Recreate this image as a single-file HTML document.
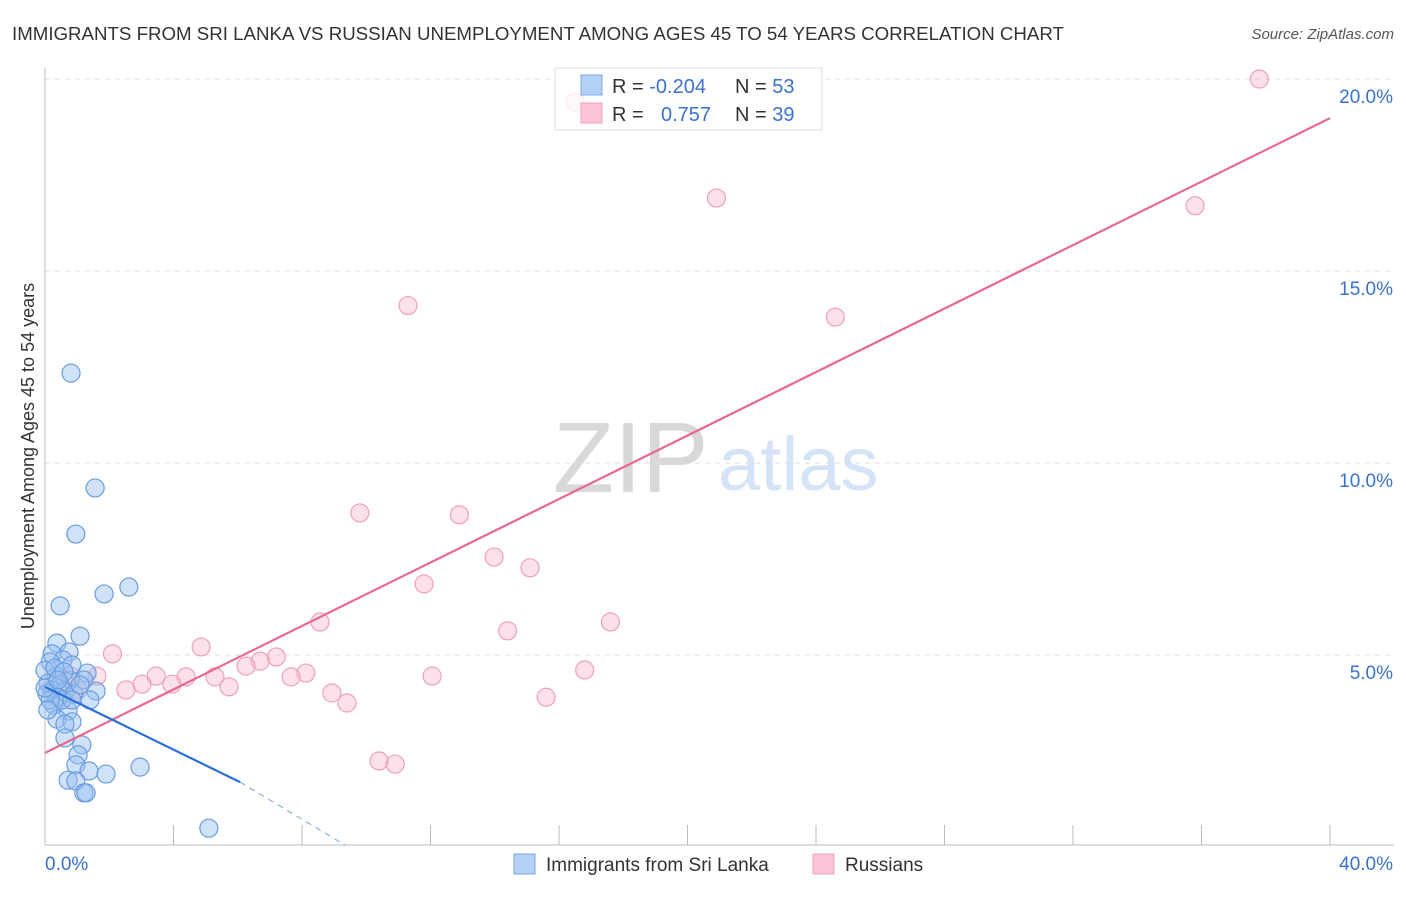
<!DOCTYPE html>
<html><head><meta charset="utf-8"><style>
body{margin:0;background:#fff;font-family:"Liberation Sans",sans-serif}
svg text{font-family:"Liberation Sans",sans-serif}
</style></head><body>
<svg id="c" width="1406" height="892">
<text x="12" y="40" font-size="18.7" fill="#333">IMMIGRANTS FROM SRI LANKA VS RUSSIAN UNEMPLOYMENT AMONG AGES 45 TO 54 YEARS CORRELATION CHART</text>
<text x="1394" y="39" font-size="15" fill="#555" font-style="italic" text-anchor="end">Source: ZipAtlas.com</text>
<text x="553" y="492" font-size="100" fill="#d8d8d8" font-family="Liberation Serif">ZIP</text>
<text x="718" y="490" font-size="76" fill="#d4e3f5">atlas</text>
<text transform="translate(34,456) rotate(-90)" font-size="18" fill="#333" text-anchor="middle">Unemployment Among Ages 45 to 54 years</text>
<g id="grid"></g><g id="pts"></g><g id="lines"></g>
<g>
<rect x="555" y="68" width="267" height="62" fill="rgba(255,255,255,0.8)" stroke="#ddd"/>
<rect x="581" y="75" width="21" height="20" fill="#b5d0f5" stroke="#7aa8e8"/>
<rect x="581" y="103" width="21" height="20" fill="#fbc5d5" stroke="#f0a0b8"/>
<text x="612" y="93" font-size="20" fill="#333">R = <tspan fill="#3a72d0">-0.204</tspan></text>
<text x="735" y="93" font-size="20" fill="#333">N = <tspan fill="#3a72d0">53</tspan></text>
<text x="612" y="121" font-size="20" fill="#333">R = </text>
<text x="661" y="121" font-size="20" fill="#3a72d0">0.757</text>
<text x="735" y="121" font-size="20" fill="#333">N = <tspan fill="#3a72d0">39</tspan></text>
</g>
<g>
<rect x="514" y="854" width="21" height="20" fill="#b5d0f5" stroke="#7aa8e8"/>
<text x="546" y="871" font-size="19" fill="#333">Immigrants from Sri Lanka</text>
<rect x="813" y="854" width="21" height="20" fill="#fbc5d5" stroke="#f0a0b8"/>
<text x="845" y="871" font-size="19" fill="#333">Russians</text>
</g>
</svg>
<script>
const yTicks=[5,10,15,20];
const yTickLabels=["5.0%","10.0%","15.0%","20.0%"];
const xTickCount=10;
const blueX=[0.81,1.56,0.96,2.61,1.84,0.47,1.09,0.37,0.75,0.22,0.56,0.16,1.31,0.34,0.78,0.09,0.47,1.21,0.22,0.62,1.59,0.9,0.4,0.28,0.72,0.37,0.84,0.62,0.62,1.15,1.03,0.96,1.37,1.9,2.96,0.72,0.96,1.21,1.28,5.1,0,0.06,0.53,1.09,0.16,0.84,0.31,0.59,1.4,0,0.4,0.84,0.09];
const blueY=[12.34,9.35,8.15,6.77,6.59,6.28,5.49,5.31,5.08,5.03,4.87,4.82,4.53,4.45,4.35,4.27,4.22,4.35,4.09,4.04,4.06,3.98,3.9,3.7,3.54,3.33,3.26,3.2,2.84,2.66,2.4,2.14,1.98,1.9,2.08,1.74,1.72,1.41,1.41,0.49,4.6,4.0,3.83,4.22,3.83,4.74,4.66,4.56,3.83,4.14,4.35,3.83,3.57];
const pinkX=[16.5,37.8,20.9,35.8,11.3,24.6,9.8,12.9,13.98,15.1,11.8,8.56,17.6,14.4,4.86,2.1,7.2,6.7,6.26,16.8,8.12,3.46,4.39,5.29,7.66,12.05,1.62,3.02,3.95,5.73,2.52,8.93,9.4,15.6,10.4,10.9,0.62,1.03,0.8];
const pinkY=[19.4,20.0,16.9,16.7,14.1,13.8,8.7,8.65,7.55,7.27,6.85,5.86,5.86,5.63,5.21,5.03,4.95,4.84,4.71,4.61,4.53,4.45,4.43,4.43,4.43,4.45,4.45,4.24,4.24,4.17,4.09,4.01,3.75,3.9,2.24,2.16,4.32,4.09,4.45];
const blueTrend=[[0,4.17],[6.07,1.69]];
const blueTrendDash=[[6.07,1.69],[9.34,0.05]];
const pinkTrend=[[0,2.45],[40,18.98]];
const X=v=>45+v*32.125, Y=v=>847-v*38.4;
const NS="http://www.w3.org/2000/svg";
function mk(tag,attrs,parent){const e=document.createElementNS(NS,tag);for(const k in attrs)e.setAttribute(k,attrs[k]);parent.appendChild(e);return e;}
const grid=document.getElementById('grid');
yTicks.forEach((t,i)=>{
 const l=mk('line',{x1:45,x2:1394,y1:Y(t),y2:Y(t),stroke:'#ddd','stroke-dasharray':'5,5'},grid);
 
 
 const tx=mk('text',{x:1393,y:Y(t)+24,'font-size':19,fill:'#3a72d0','text-anchor':'end'},grid);
 tx.textContent=yTickLabels[i];
 
 
});
const ax=mk('line',{x1:45,x2:1394,y1:845,y2:845,stroke:'#bbb'},grid);


const ay=mk('line',{x1:45,x2:45,y1:68,y2:845,stroke:'#bbb'},grid);


for(let i=0;i<=xTickCount;i++){
 const t=mk('line',{x1:X(i*4),x2:X(i*4),y1:825,y2:845,stroke:'#bbb'},grid);
 
 
}
const x0=mk('text',{x:45,y:870,'font-size':19,fill:'#3a72d0'},grid);x0.textContent='0.0%';


const x1=mk('text',{x:1393,y:870,'font-size':19,fill:'#3a72d0','text-anchor':'end'},grid);x1.textContent='40.0%';


const pts=document.getElementById('pts');
pinkX.forEach((v,i)=>{
 const c=mk('circle',{cx:X(v),cy:Y(pinkY[i]),r:9,fill:'rgba(248,180,200,0.4)',stroke:'#f0a0b8','stroke-width':1.2},pts);
 
 
});
blueX.forEach((v,i)=>{
 const c=mk('circle',{cx:X(v),cy:Y(blueY[i]),r:9,fill:'rgba(150,190,240,0.45)',stroke:'#6a9de0','stroke-width':1.2},pts);
 
 
});
const lines=document.getElementById('lines');
const pl=mk('line',{x1:X(pinkTrend[0][0]),y1:Y(pinkTrend[0][1]),x2:X(pinkTrend[1][0]),y2:Y(pinkTrend[1][1]),stroke:'#e8688f','stroke-width':2.2},lines);


const bl=mk('line',{x1:X(blueTrend[0][0]),y1:Y(blueTrend[0][1]),x2:X(blueTrend[1][0]),y2:Y(blueTrend[1][1]),stroke:'#2a6fd6','stroke-width':2.2},lines);


const bd=mk('line',{x1:X(blueTrendDash[0][0]),y1:Y(blueTrendDash[0][1]),x2:X(blueTrendDash[1][0]),y2:Y(blueTrendDash[1][1]),stroke:'#7aa0d8','stroke-width':1,'stroke-dasharray':'6,5'},lines);


</script>
</body></html>
